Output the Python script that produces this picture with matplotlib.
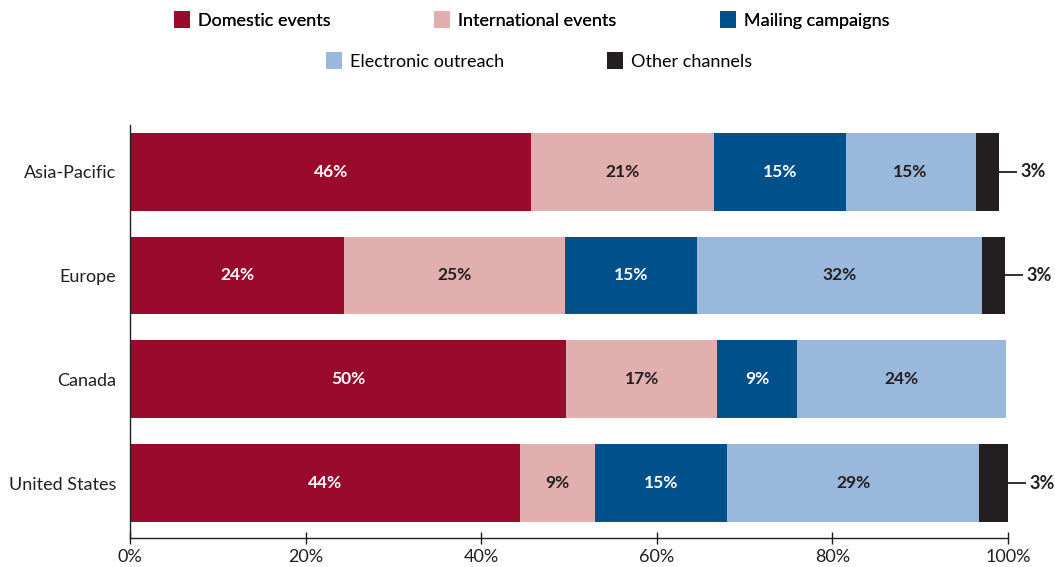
import numpy as np
import matplotlib.pyplot as plt
from matplotlib.patches import Patch

plt.rcParams['font.family'] = ['Lato', 'DejaVu Sans']

regions = ["United States", "Canada", "Europe", "Asia-Pacific"]
channels = ["Domestic events", "International events", "Mailing campaigns",
            "Electronic outreach", "Other channels"]

# share of spend per channel, one list per region (same order as regions)
domestic = [44.4, 49.7, 24.4, 45.7]
international = [8.6, 17.2, 25.2, 20.8]
mailing = [15.0, 9.1, 15.0, 15.0]
electronic = [28.7, 23.8, 32.4, 14.8]
other = [3.3, 0.0, 2.7, 2.7]

colors = ["#990a2c", "#e2afaf", "#00508b", "#9ab8dc", "#231f20"]
text_colors = ["white", "#231f20", "white", "#231f20", "#231f20"]

series = [domestic, international, mailing, electronic, other]

fig = plt.figure(figsize=(10.55, 5.67), dpi=100)
ax = fig.add_axes([130 / 1055, (567 - 538) / 567, 878 / 1055, (538 - 125) / 567])

y = np.arange(len(regions))
left = np.zeros(len(regions))
for k, vals in enumerate(series):
    vals = np.array(vals)
    ax.barh(y, vals, left=left, height=0.75, color=colors[k], linewidth=0)
    for i, v in enumerate(vals):
        if v <= 0:
            continue
        if k == len(series) - 1:
            # small slices get a leader line and an outside label
            end = left[i] + v
            ax.plot([end, end + 2.0], [y[i], y[i]], color="#231f20",
                    lw=1.3, clip_on=False, solid_capstyle="butt")
            ax.text(end + 2.4, y[i], f"{v:.0f}%", ha="left", va="center",
                    fontsize=13, fontweight="bold", color="#231f20", clip_on=False)
        else:
            ax.text(left[i] + v / 2, y[i], f"{v:.0f}%", ha="center", va="center",
                    fontsize=12.5, fontweight="bold", color=text_colors[k])
    left += vals

ax.set_xlim(0, 100)
ax.set_ylim(-0.53, 3.45)
ax.set_yticks(y)
ax.set_yticklabels(regions, fontsize=13, color="#231f20")
ax.tick_params(axis="y", length=0, pad=10)
ax.set_xticks(np.arange(0, 101, 20))
ax.set_xticklabels([f"{t}%" for t in range(0, 101, 20)], fontsize=13, color="#231f20")
ax.tick_params(axis="x", direction="inout", length=8, width=1, color="#231f20", pad=4)

for s in ["top", "right"]:
    ax.spines[s].set_visible(False)
for s in ["left", "bottom"]:
    ax.spines[s].set_color("#231f20")
    ax.spines[s].set_linewidth(1)

handles = [Patch(facecolor=c, edgecolor="none") for c in colors]
leg1 = fig.legend(handles[:3], channels[:3], loc="center", ncol=3,
                  bbox_to_anchor=(0.504, 1 - 20 / 567), frameon=False, fontsize=13,
                  handlelength=0.9, handleheight=1.1, handletextpad=0.45,
                  columnspacing=5.7)
fig.legend(handles[3:], channels[3:], loc="center", ncol=2,
           bbox_to_anchor=(0.511, 1 - 61 / 567), frameon=False, fontsize=13,
           handlelength=0.9, handleheight=1.1, handletextpad=0.45,
           columnspacing=5.65)
fig.add_artist(leg1)

fig.savefig("out.png", dpi=100)
